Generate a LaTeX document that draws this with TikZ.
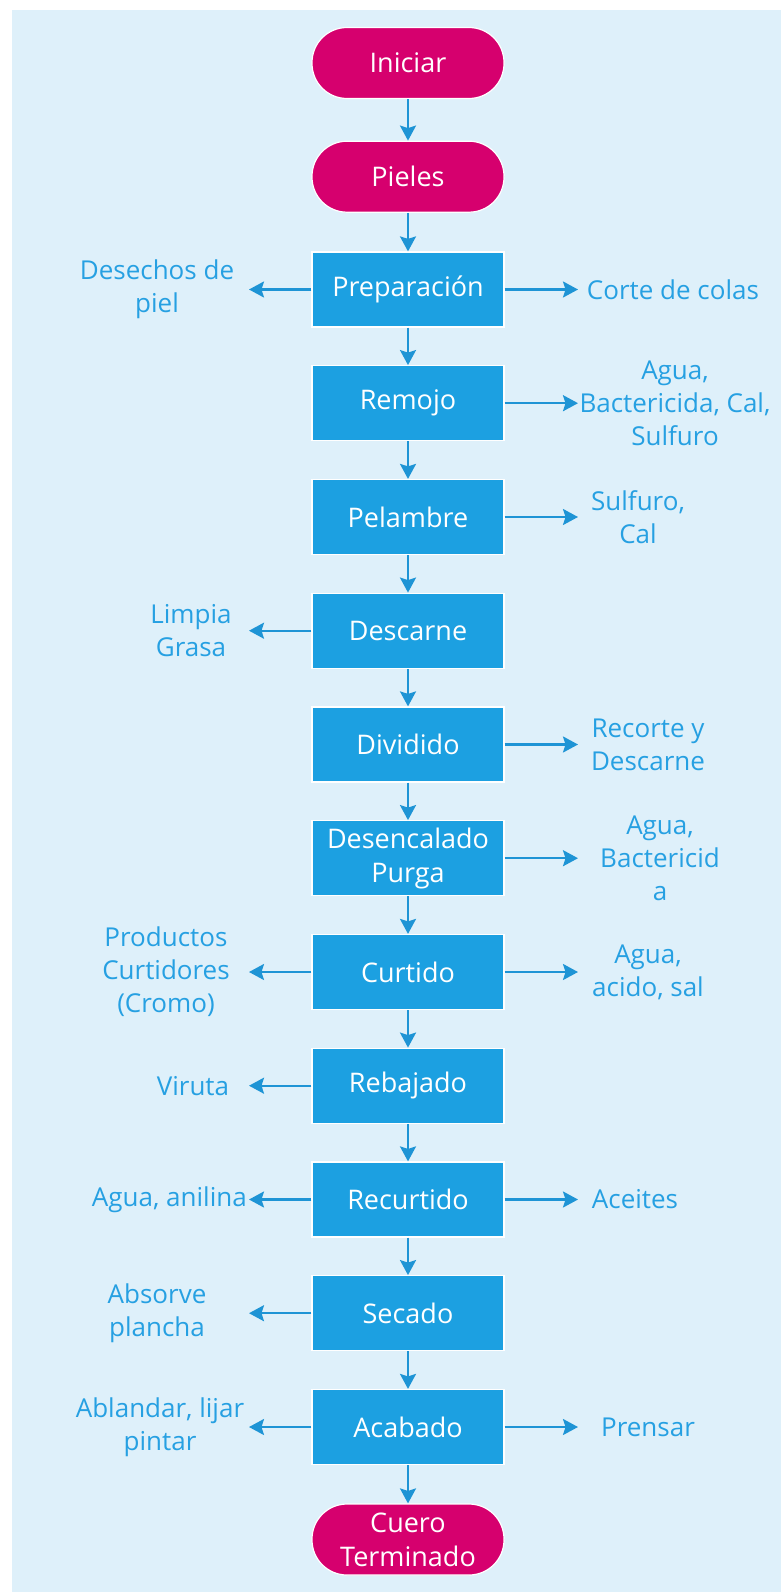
\documentclass[tikz,border=0pt]{standalone}
\usepackage{fontspec}
\setmainfont{Open Sans}
\usetikzlibrary{arrows.meta}
\definecolor{bg}{RGB}{222,240,250}
\definecolor{pillc}{RGB}{214,0,110}
\definecolor{boxc}{RGB}{28,160,225}
\definecolor{labc}{RGB}{38,160,226}
\definecolor{arrc}{RGB}{30,148,213}
\tikzset{
  pillnode/.style={rectangle, rounded corners=35pt, minimum width=192pt, minimum height=71pt, fill=pillc, draw=white, line width=1.2pt, text=white, font=\fontsize{27}{34}\selectfont, align=center, inner sep=1pt},
  stepbox/.style={rectangle, minimum width=192pt, minimum height=75pt, fill=boxc, draw=white, line width=1.2pt, text=white, font=\fontsize{27}{34}\selectfont, align=center, inner sep=1pt},
  lbl/.style={text=labc, font=\fontsize{26}{33}\selectfont, align=center, inner sep=0pt},
  flow/.style={draw=arrc, line width=2.2pt, -{Stealth[length=15pt,width=16pt,inset=2.5pt]}}
}
\begin{document}
\begin{tikzpicture}[x=1pt,y=-1pt]
\useasboundingbox (0,0) rectangle (781,1592);
\fill[white] (0,0) rectangle (781,1592);
\fill[bg] (12,10) rectangle (781,1592);

\def\cx{408}
\node[pillnode] (ini) at (\cx,63) {Iniciar};
\node[pillnode] (pie) at (\cx,176.7) {Pieles};
\node[stepbox] (pre) at (\cx,289.5) {Preparación};
\node[stepbox] (rem) at (\cx,403.2) {Remojo};
\node[stepbox] (pel) at (\cx,517) {Pelambre};
\node[stepbox] (des) at (\cx,630.7) {Descarne};
\node[stepbox] (div) at (\cx,744.5) {Dividido};
\node[stepbox] (dpu) at (\cx,858.2) {Desencalado\\Purga};
\node[stepbox] (cur) at (\cx,972) {Curtido};
\node[stepbox] (reb) at (\cx,1085.7) {Rebajado};
\node[stepbox] (rec) at (\cx,1199.5) {Recurtido};
\node[stepbox] (sec) at (\cx,1313.2) {Secado};
\node[stepbox] (aca) at (\cx,1427) {Acabado};
\node[pillnode] (fin) at (\cx,1539.5) {Cuero\\Terminado};

\draw[flow] (ini) -- (pie);
\draw[flow] (pie) -- (pre);
\draw[flow] (pre) -- (rem);
\draw[flow] (rem) -- (pel);
\draw[flow] (pel) -- (des);
\draw[flow] (des) -- (div);
\draw[flow] (div) -- (dpu);
\draw[flow] (dpu) -- (cur);
\draw[flow] (cur) -- (reb);
\draw[flow] (reb) -- (rec);
\draw[flow] (rec) -- (sec);
\draw[flow] (sec) -- (aca);
\draw[flow] (aca) -- (fin);

\def\lx{249}
\def\rx{578}
% left side
\coordinate (lpre) at (\lx,289.5);
\coordinate (ldes) at (\lx,630.7);
\coordinate (lcur) at (\lx,972);
\coordinate (lreb) at (\lx,1085.7);
\coordinate (lrec) at (\lx,1199.5);
\coordinate (lsec) at (\lx,1313.2);
\coordinate (laca) at (\lx,1427);
% right side
\coordinate (rpre) at (\rx,289.5);
\coordinate (rrem) at (\rx,403.2);
\coordinate (rpel) at (\rx,517);
\coordinate (rdiv) at (\rx,744.5);
\coordinate (rdpu) at (\rx,858.2);
\coordinate (rcur) at (\rx,972);
\coordinate (rrec) at (\rx,1199.5);
\coordinate (raca) at (\rx,1427);

\draw[flow] (pre.west) -- (lpre);
\draw[flow] (des.west) -- (ldes);
\draw[flow] (cur.west) -- (lcur);
\draw[flow] (reb.west) -- (lreb);
\draw[flow] (rec.west) -- (lrec);
\draw[flow] (sec.west) -- (lsec);
\draw[flow] (aca.west) -- (laca);
\draw[flow] (pre.east) -- (rpre);
\draw[flow] (rem.east) -- (rrem);
\draw[flow] (pel.east) -- (rpel);
\draw[flow] (div.east) -- (rdiv);
\draw[flow] (dpu.east) -- (rdpu);
\draw[flow] (cur.east) -- (rcur);
\draw[flow] (rec.east) -- (rrec);
\draw[flow] (aca.east) -- (raca);

\node[lbl] (t1) at (157,289) {Desechos de\\piel};
\node[lbl] (t2) at (673,289.5) {Corte de colas};
\node[lbl] (t3) at (675,403) {Agua,\\Bactericida, Cal,\\Sulfuro};
\node[lbl] (t4) at (638,517) {Sulfuro,\\Cal};
\node[lbl] (t5) at (191,630.7) {Limpia\\Grasa};
\node[lbl] (t6) at (648,744.5) {Recorte y\\Descarne};
\node[lbl] (t7) at (660,858.2) {Agua,\\Bactericid\\a};
\node[lbl] (t8) at (166,972) {Productos\\Curtidores\\(Cromo)};
\node[lbl] (t9) at (648,972) {Agua,\\acido, sal};
\node[lbl] (t10) at (193,1085.7) {Viruta};
\node[lbl, anchor=east] (t11) at (247,1199.5) {Agua, anilina};
\node[lbl] (t12) at (635,1199.5) {Aceites};
\node[lbl] (t13) at (157,1313.2) {Absorve\\plancha};
\node[lbl] (t14) at (160,1427) {Ablandar, lijar\\pintar};
\node[lbl] (t15) at (648,1427) {Prensar};
\end{tikzpicture}
\end{document}
